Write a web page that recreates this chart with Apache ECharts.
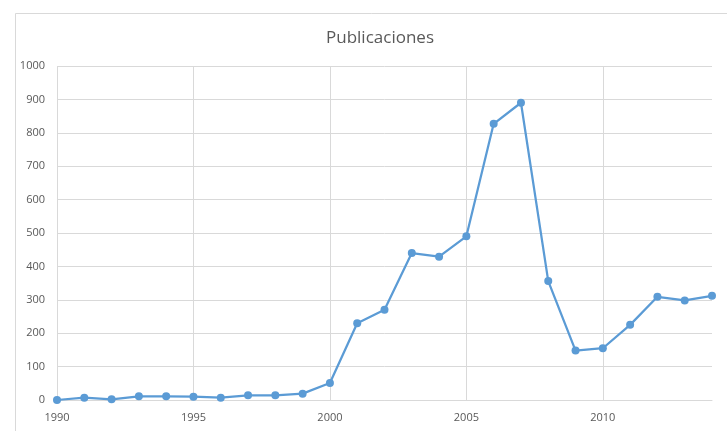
<!DOCTYPE html>
<html>
<head>
<meta charset="utf-8">
<script src="https://cdn.jsdelivr.net/npm/echarts@6/dist/echarts.min.js"></script>
<style>
  html, body { margin: 0; padding: 0; background: #fff; }
  #chart { width: 727px; height: 431px; }
</style>
</head>
<body>
<div id="chart"></div>
<script>
// Annual publication counts, 1990–2014
const years = ['1990','1991','1992','1993','1994','1995','1996','1997','1998','1999',
               '2000','2001','2002','2003','2004','2005','2006','2007','2008','2009',
               '2010','2011','2012','2013','2014'];
const publicaciones = [0, 7, 2, 11, 11, 10, 7, 14, 14, 19,
                       51, 230, 270, 440, 429, 490, 827, 890, 356, 148,
                       155, 225, 309, 298, 312];

const FONT = '"Open Sans", "Liberation Sans", sans-serif';
const chart = echarts.init(document.getElementById('chart'));
chart.setOption({
  animation: false,
  backgroundColor: '#ffffff',
  graphic: [{
    type: 'rect',
    left: 13, top: 11,
    shape: { width: 800, height: 500 },
    style: { fill: 'none', stroke: '#d9d9d9', lineWidth: 1 },
    silent: true
  }],
  title: {
    text: 'Publicaciones',
    left: 375, top: 25,
    textAlign: 'center',
    textStyle: { fontFamily: FONT, fontSize: 17, fontWeight: 'normal', color: '#595959' }
  },
  grid: { left: 57, right: 15, top: 66, bottom: 31, containLabel: false },
  xAxis: {
    type: 'category',
    data: years,
    boundaryGap: false,
    axisLine: { lineStyle: { color: '#d9d9d9', width: 1 } },
    axisTick: { show: false },
    axisLabel: {
      interval: 4,
      color: '#595959', fontFamily: FONT, fontSize: 11, margin: 12
    },
    splitLine: { show: true, interval: 4, lineStyle: { color: '#d9d9d9', width: 1 } }
  },
  yAxis: {
    type: 'value',
    min: 0, max: 1000, interval: 100,
    axisLine: { show: false },
    axisTick: { show: false },
    axisLabel: {
      color: '#595959', fontFamily: FONT, fontSize: 11, margin: 12,
      formatter: v => String(v)
    },
    splitLine: { lineStyle: { color: '#d9d9d9', width: 1 } }
  },
  series: [{
    type: 'line',
    data: publicaciones,
    symbol: 'circle',
    symbolSize: 8,
    lineStyle: { color: '#5b9bd5', width: 2.25 },
    itemStyle: { color: '#5b9bd5' }
  }]
});
</script>
</body>
</html>
